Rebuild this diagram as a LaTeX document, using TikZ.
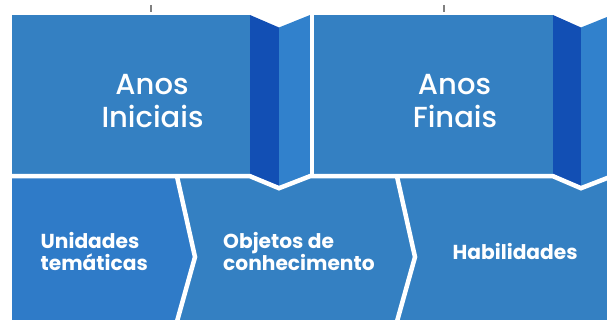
\documentclass[tikz,border=0pt]{standalone}
\usepackage{fontspec}
\setmainfont{Poppins}
\newfontfamily\titlefont{Poppins Medium}
\definecolor{mainblue}{HTML}{3480C2}
\definecolor{leftblue}{HTML}{2F7BC8}
\definecolor{darkfold}{HTML}{124FB4}
\definecolor{lightfold}{HTML}{3181CC}
\definecolor{tickgray}{HTML}{808080}
\tikzset{
  title/.style={text=white, anchor=base, inner sep=0pt, font=\titlefont\fontsize{29}{33}\selectfont},
  label/.style={text=white, anchor=base west, inner sep=0pt, font=\fontsize{20.2}{21}\selectfont\bfseries},
  sep/.style={draw=white, line width=4.5pt, line join=miter},
}
\begin{document}
\begin{tikzpicture}[x=1pt,y=-1pt]
\useasboundingbox (0,0) rectangle (607,320);
\begin{scope}
\clip (0,0) rectangle (607,320);
% bottom row
\fill[leftblue] (12,176) -- (176,176) -- (195,257) -- (176,320) -- (12,320) -- cycle;
\fill[mainblue] (176,176) -- (396,176) -- (415,257) -- (396,320) -- (176,320) -- (195,257) -- cycle;
\fill[mainblue] (396,176) -- (610,176) -- (610,320) -- (396,320) -- (415,257) -- cycle;
\draw[sep] (176,172) -- (195,257) -- (176,325);
\draw[sep] (396,172) -- (415,257) -- (396,325);
% top panels
\fill[mainblue] (12,15) rectangle (250,174);
\fill[darkfold] (250,15) -- (279,27.5) -- (279,186) -- (250,174) -- cycle;
\fill[lightfold] (279,27.5) -- (310,15) -- (310,174) -- (279,186) -- cycle;
\fill[mainblue] (314,15) rectangle (553,174);
\fill[darkfold] (553,15) -- (581,27.5) -- (581,186) -- (553,174) -- cycle;
\fill[lightfold] (581,27.5) -- (612,15) -- (612,174) -- (581,186) -- cycle;
% white outlines
\draw[sep] (12,176.2) -- (250,176.2) -- (279,188.2) -- (310,176.2) -- (314,176.2) -- (553,176.2) -- (581,188.2) -- (612,176.2);
\draw[draw=white, line width=4pt] (312,13) -- (312,176);
\end{scope}
% ticks
\draw[tickgray, line width=2pt] (151,5) -- (151,12);
\draw[tickgray, line width=2pt] (444,5) -- (444,12);
% texts
\node[title] (t1a) at (152,95) {Anos};
\node[title] (t1b) at (152.5,128) {Iniciais};
\node[title] (t2a) at (454.5,95) {Anos};
\node[title] (t2b) at (455,128) {Finais};
\node[label] (u1) at (40.5,248.5) {Unidades};
\node[label] (u2) at (40.5,270) {temáticas};
\node[label] (o1) at (223,248.5) {Objetos de};
\node[label] (o2) at (223,270) {conhecimento};
\node[label] (h1) at (452.5,259) {Habilidades};
\end{tikzpicture}
\end{document}
